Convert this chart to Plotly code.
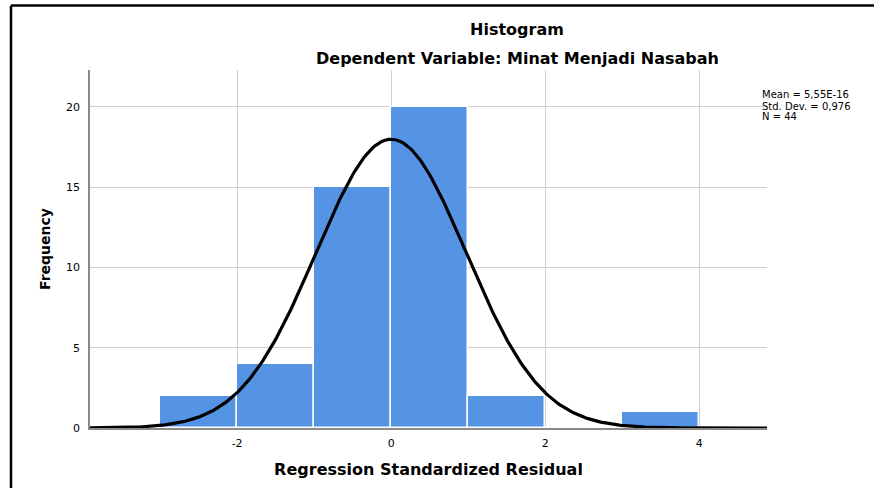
import numpy as np
import plotly.graph_objects as go

bin_left = [-3, -2, -1, 0, 1, 2, 3]
counts = [2, 4, 15, 20, 2, 0, 1]
bin_width = 1.0
mean_val = 5.55e-16
std_val = 0.976
n_val = 44
x_ticks = [-2, 0, 2, 4]
y_ticks = [0, 5, 10, 15, 20]
stat_lines = ["Mean = 5,55E-16", "Std. Dev. = 0,976", "N = 44"]

W, H = 874, 488
L, R, T, B = 90, 767, 70, 428
xr = [-3.91, 4.88]
yr = [0, 22.3]

def px(xpix):
    return (xpix - L) / (R - L)

def py(ypix):
    return (B - ypix) / (B - T)

fig = go.Figure()
fig.add_trace(go.Bar(
    x=[b + bin_width / 2 for b in bin_left], y=counts, width=bin_width,
    marker=dict(color="#5593E4", line=dict(color="white", width=1.5)),
    hoverinfo="skip", showlegend=False))

xc = np.linspace(xr[0], xr[1], 400)
yc = n_val * bin_width / (std_val * np.sqrt(2 * np.pi)) * np.exp(-0.5 * ((xc - mean_val) / std_val) ** 2)
fig.add_trace(go.Scatter(x=xc, y=yc, mode="lines", line=dict(color="black", width=3.2),
                         hoverinfo="skip", showlegend=False))

font = "DejaVu Sans, Arial, sans-serif"
annotations = [
    dict(text="<b>Histogram</b>", x=px(517), y=py(30), xref="paper", yref="paper",
         showarrow=False, font=dict(size=16, family=font), xanchor="center", yanchor="middle"),
    dict(text="<b>Dependent Variable: Minat Menjadi Nasabah</b>", x=px(517), y=py(59), xref="paper", yref="paper",
         showarrow=False, font=dict(size=16, family=font), xanchor="center", yanchor="middle"),
]
for i, line in enumerate(stat_lines):
    annotations.append(dict(text=line, x=px(761), y=py(95 + 11 * i), xref="paper", yref="paper",
                            showarrow=False, align="left", font=dict(size=10, family=font),
                            xanchor="left", yanchor="middle", borderpad=0))

fig.update_layout(
    width=W, height=H, margin=dict(l=L, r=W - R, t=T, b=H - B),
    plot_bgcolor="white", paper_bgcolor="white", bargap=0,
    font=dict(family=font, color="black"),
    xaxis=dict(range=xr, tickvals=x_ticks, ticktext=[str(v) for v in x_ticks],
               showgrid=True, gridcolor="#CFCFCF", gridwidth=1, zeroline=False,
               showline=True, linecolor="#8A8A8A", linewidth=1.5,
               ticks="", tickfont=dict(size=11, family=font), ticklabelstandoff=4,
               title=dict(text="<b>Regression Standardized Residual</b>", font=dict(size=16, family=font), standoff=15)),
    yaxis=dict(range=yr, tickvals=y_ticks, ticktext=[str(v) for v in y_ticks],
               showgrid=True, gridcolor="#CFCFCF", gridwidth=1, zeroline=False,
               showline=True, linecolor="#8A8A8A", linewidth=1.5,
               ticks="", tickfont=dict(size=11, family=font), ticklabelstandoff=6,
               title=dict(text="<b>Frequency</b>", font=dict(size=14, family=font), standoff=12)),
    annotations=annotations,
    shapes=[
        dict(type="line", xref="paper", yref="paper", x0=px(11), x1=px(880), y0=py(5.5), y1=py(5.5),
             line=dict(color="black", width=2.5)),
        dict(type="line", xref="paper", yref="paper", x0=px(11), x1=px(11), y0=py(5.5), y1=py(495),
             line=dict(color="black", width=2.5)),
    ],
)

fig.write_html("out.html")
